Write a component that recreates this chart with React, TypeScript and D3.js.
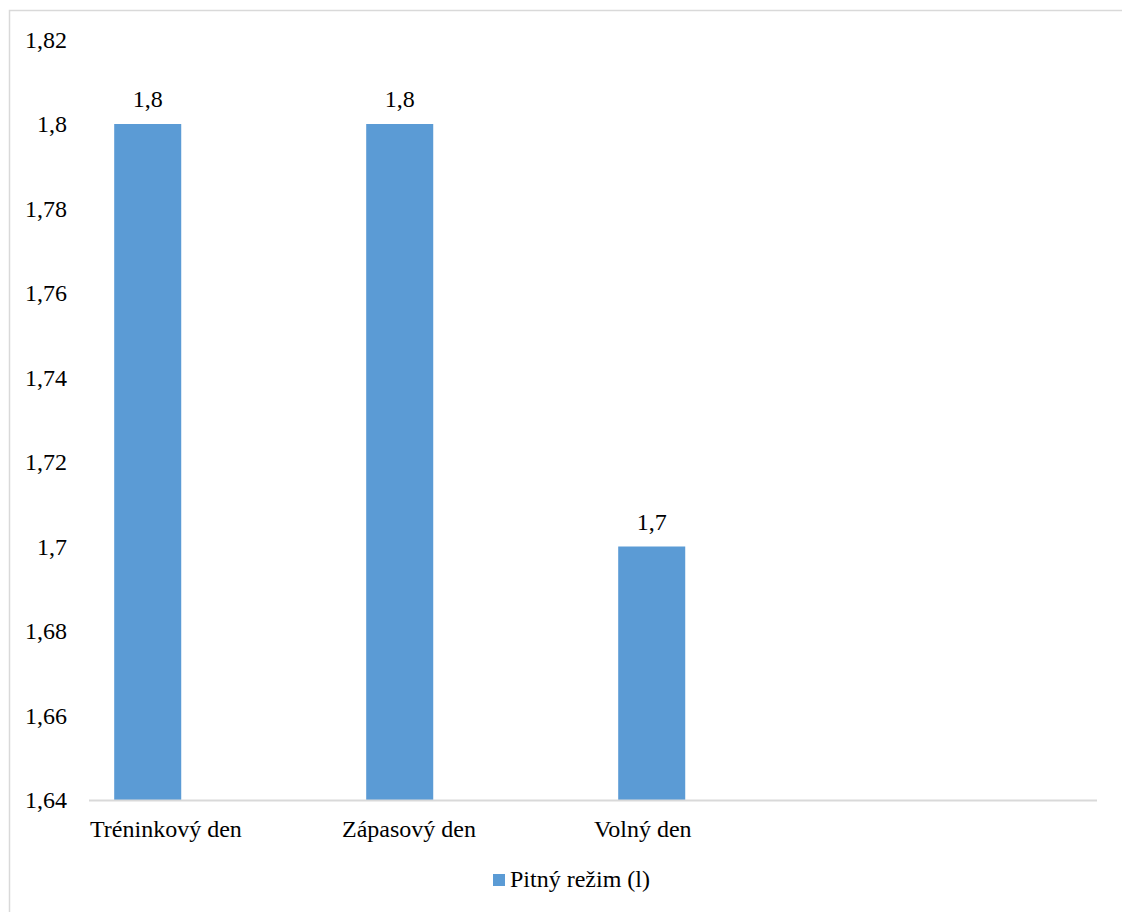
import React from "react";
import * as d3 from "d3";

const categories = ["Tréninkový den", "Zápasový den", "Volný den", ""];
const values = [1.8, 1.8, 1.7];
const valueLabels = ["1,8", "1,8", "1,7"];
const yTicks = [1.64, 1.66, 1.68, 1.7, 1.72, 1.74, 1.76, 1.78, 1.8, 1.82];
const seriesName = "Pitný režim (l)";

const W = 1122;
const H = 912;
const FONT = "Liberation Serif, Times New Roman, serif";
const BAR = "#5b9bd5";
const GRID = "#d9d9d9";

export default function App() {
  const x = d3.scaleBand<string>().domain(categories).range([89, 1097]).padding(0);
  const y = d3.scaleLinear().domain([1.64, 1.82]).range([800, 39.5]);
  const bw = x.bandwidth();
  const fmt = (v: number) => String(+v.toFixed(2)).replace(".", ",");
  const textStyle = { fontFamily: FONT, fontSize: "24px" } as React.CSSProperties;

  return (
    <div style={{ position: "absolute", left: 0, top: 0 }}>
      <svg width={W} height={H} style={{ display: "block", background: "#fff" }}>
        <rect x={9.5} y={10.5} width={1200} height={1000} fill="#fff" stroke={GRID} strokeWidth={1.5} />
        {yTicks.map((t) => (
          <text
            key={t}
            x={67}
            y={y(t)}
            textAnchor="end"
            dominantBaseline="central"
            style={textStyle}
            fill="#000"
          >
            {fmt(t)}
          </text>
        ))}
        {values.map((v, i) => {
          const bx = (x(categories[i]) as number) + bw * 0.1;
          const w = bw * 0.266;
          return (
            <g key={i}>
              <rect x={bx} y={y(v)} width={w} height={800 - y(v)} fill={BAR} />
              <text
                x={bx + w / 2}
                y={y(v) - 17}
                textAnchor="middle"
                style={textStyle}
                fill="#000"
              >
                {valueLabels[i]}
              </text>
            </g>
          );
        })}
        <line x1={89} x2={1097} y1={800.5} y2={800.5} stroke={GRID} strokeWidth={2} />
        {categories.map((c, i) =>
          c ? (
            <text key={i} x={(x(c) as number) + 1} y={837} style={textStyle} fill="#000">
              {c}
            </text>
          ) : null
        )}
        <rect x={493} y={874} width={12} height={12} fill={BAR} />
        <text x={510} y={887} style={textStyle} fill="#000">
          {seriesName}
        </text>
      </svg>
    </div>
  );
}
